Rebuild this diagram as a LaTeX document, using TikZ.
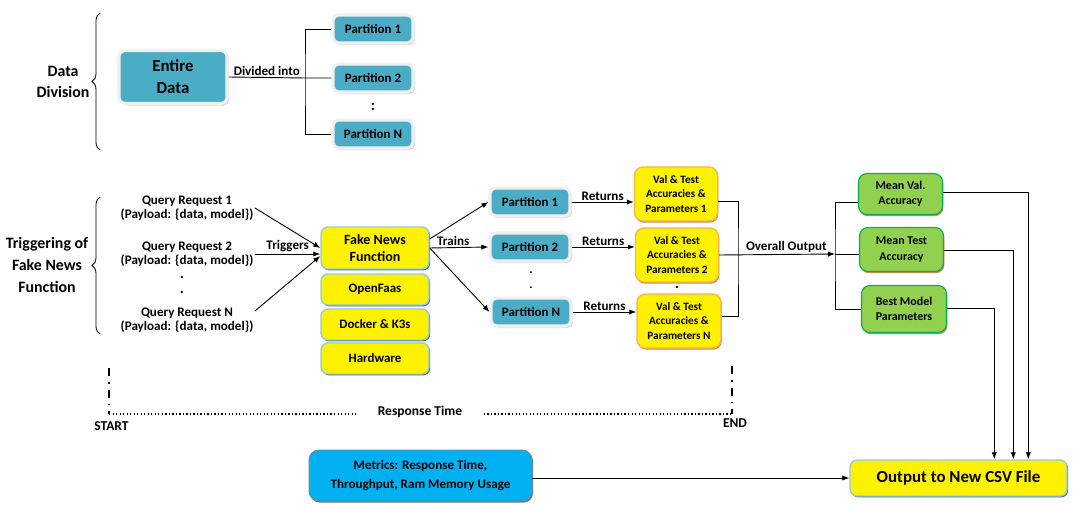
\documentclass[tikz,border=0pt]{standalone}
\usepackage{fontspec}
\setmainfont{Carlito}
\usetikzlibrary{positioning}
\usetikzlibrary{arrows.meta}
\usetikzlibrary{shadows}
\usetikzlibrary{calc}
\usetikzlibrary{decorations.pathreplacing}
\newdimen\pxu
\pxu=0.025cm
\definecolor{tealfill}{RGB}{75,172,198}
\definecolor{tealline}{RGB}{147,205,221}
\definecolor{skyfill}{RGB}{0,176,240}
\definecolor{grnfill}{RGB}{146,208,80}
\definecolor{grnline}{RGB}{0,176,80}
\definecolor{orgline}{RGB}{250,180,80}
\definecolor{brnshade}{RGB}{190,110,40}
\definecolor{blushade}{RGB}{50,90,110}
\tikzset{
    tealnode/.style = {rectangle, rounded corners=4pt, draw=black!6, line width=2.2pt, fill=tealfill, inner sep=0pt, align=center, minimum width=80\pxu, minimum height=28\pxu, drop shadow={shadow xshift=1.5pt, shadow yshift=-1.5pt, opacity=0.3}, font=\fontsize{9.2}{11}\selectfont\bfseries},
    yellownode/.style = {rectangle, rounded corners=5pt, draw=tealline, line width=1pt, fill=yellow, inner sep=0pt, align=center, minimum width=108\pxu, minimum height=31\pxu, drop shadow={shadow xshift=0.8pt, shadow yshift=-1pt, fill=blushade, opacity=0.9}, font=\fontsize{9.2}{11}\selectfont\bfseries},
    valnode/.style = {rectangle, rounded corners=6pt, draw=orgline, line width=1pt, fill=yellow, inner sep=0pt, align=center, minimum width=83\pxu, minimum height=54\pxu, drop shadow={shadow xshift=0.6pt, shadow yshift=-1.2pt, fill=brnshade, opacity=0.8}, font=\fontsize{8}{10.4}\selectfont\bfseries},
    greennode/.style = {rectangle, rounded corners=6pt, draw=grnline, line width=0.8pt, fill=grnfill, inner sep=0pt, align=center, minimum width=84\pxu, minimum height=42\pxu, drop shadow={shadow xshift=0.6pt, shadow yshift=-1.2pt, fill=brnshade, opacity=0.8}, font=\fontsize{8.5}{11}\selectfont\bfseries},
    bluenode/.style = {rectangle, rounded corners=7pt, draw=blushade!70, line width=0.6pt, fill=skyfill, inner sep=0pt, align=center, minimum width=223\pxu, minimum height=51\pxu, drop shadow={shadow xshift=0.8pt, shadow yshift=-1.2pt, fill=blushade, opacity=0.8}, font=\fontsize{9.3}{13}\selectfont\bfseries},
    txt/.style = {inner sep=1pt, align=center, font=\fontsize{9.3}{10.3}\selectfont\bfseries},
    bigtxt/.style = {inner sep=1pt, align=center, font=\fontsize{11.3}{15.4}\selectfont\bfseries},
    dotnode/.style = {inner sep=0pt, align=center, font=\fontsize{#1}{10.2pt}\selectfont\bfseries},
    edgen/.style = {-{Latex[length=5pt,width=3.8pt]}, line width=0.65pt},
    linen/.style = {line width=0.65pt},
    bracen/.style = {line width=0.6pt, decorate, decoration={brace, amplitude=5.7pt}},
    dotn/.style = {line width=0.9pt, dash pattern=on 0.9pt off 1.6pt},
    dashdotn/.style = {line width=1.3pt, dash pattern=on 6pt off 4pt on 1.3pt off 4pt}
}
\begin{document}
\begin{tikzpicture}[x=\pxu, y=-\pxu]
\useasboundingbox (0,0) rectangle (1080,511);
%
% data division
\node[bigtxt] at (63,82) (dd) {Data\\Division};
\coordinate (b1t) at (100,13);
\coordinate (b1b) at (100,150);
\draw[bracen] (b1b) -- (b1t);
\node[tealnode, minimum width=108\pxu, minimum height=53\pxu, font=\fontsize{12}{15.5}\selectfont\bfseries] at (173,77) (ed) {Entire\\Data};
\node[tealnode] at (373,29) (dp1) {Partition 1};
\node[tealnode] at (373,78) (dp2) {Partition 2};
\node[tealnode] at (373,134) (dpn) {Partition N};
\node[dotnode=11] at (373,107) (dpd) {:};
\coordinate (dsplit) at (305,78);
%
\draw[linen] (ed.east) -- node[txt, above] {Divided into} (dsplit) -- (dp2.west);
\draw[linen] (dp1.west) -| (dsplit) |- (dpn.west);
%
% triggering
\node[bigtxt] at (47,265) (tf) {Triggering of\\Fake News\\Function};
\coordinate (b2t) at (100,197);
\coordinate (b2b) at (100,334);
\draw[bracen] (b2b) -- (b2t);
\node[txt] at (187,208) (q1) {Query Request 1\\(Payload: \{data, model\})};
\node[txt] at (187,254) (q2) {Query Request 2\\(Payload: \{data, model\})};
\node[dotnode=11] at (182,285) (qd) {.\\.};
\node[txt] at (187,320) (qn) {Query Request N\\(Payload: \{data, model\})};
%
\node[yellownode, minimum height=42\pxu, font=\fontsize{10}{11.6}\selectfont\bfseries] at (375,248) (ff) {Fake News\\Function};
\node[yellownode] at (375,289.5) (of) {OpenFaas};
\node[yellownode] at (375,324.5) (dk) {Docker \& K3s};
\node[yellownode] at (375,358.5) (hw) {Hardware};
%
\draw[edgen] (q1.east) -- (ff.west);
\draw[edgen] (q2.east) -- node[txt, above] {Triggers} (q2.east -| ff.west);
\draw[edgen] ($(qn.east)+(0,-9)$) -- ($(ff.west)+(0,8)$);
%
% training
\node[tealnode] at (530,202) (pm1) {Partition 1};
\node[tealnode] at (530,247) (pm2) {Partition 2};
\node[dotnode=9] at (531,280) (pmd) {.\\.};
\node[tealnode] at (531,312) (pmn) {Partition N};
%
\draw[edgen] ($(ff.east)+(0,-9)$) -- (pm1.west);
\draw[edgen] (ff.east) -- node[txt, above, pos=0.4] {Trains} (pm2.west);
\draw[edgen] (ff.east) -- (pmn.west);
%
\node[valnode] at (676,194) (v1) {Val \& Test\\Accuracies \&\\Parameters 1};
\node[valnode] at (677,255) (v2) {Val \& Test\\Accuracies \&\\Parameters 2};
\node[dotnode=11] at (677,287) (vd) {.};
\node[valnode, minimum width=84\pxu] at (679,321) (vn) {Val \& Test\\Accuracies \&\\Parameters N};
%
\draw[edgen] (pm1.east) -- node[txt, above] {Returns} (pm1.east -| v1.west);
\draw[edgen] (pm2.east) -- node[txt, above] {Returns} (pm2.east -| v2.west);
\draw[edgen] (pmn.east) -- node[txt, above] {Returns} (pmn.east -| vn.west);
%
% overall output
\coordinate (vj) at (738,254);
\coordinate (msplit) at (835,254);
\draw[linen] ($(v1.east)+(0,7)$) -| (vj) |- ($(vn.east)+(0,-5)$);
\draw[edgen] (v2.east) -- node[txt, above, pos=0.58] {Overall Output} (msplit);
%
\node[greennode, minimum height=41\pxu] at (900.5,194) (mv) {Mean Val.\\Accuracy};
\node[greennode, minimum height=44\pxu] at (901.5,249.5) (mt) {Mean Test\\Accuracy};
\node[greennode, minimum width=85\pxu, minimum height=47\pxu] at (904,309) (bm) {Best Model\\Parameters};
%
\draw[linen] ($(mv.west)+(0,8)$) -| (msplit) |- (bm.west);
\draw[linen] (msplit) -- (msplit -| mt.west);
%
% output file
\node[yellownode, minimum width=217\pxu, minimum height=36\pxu, font=\fontsize{12}{14}\selectfont\bfseries] at (958.5,478) (csv) {Output to New CSV File};
\draw[edgen] ($(mv.east)+(0,-2)$) -| ($(csv.north west)+(179,0)$);
\draw[edgen] ($(mt.east)+(0,0.5)$) -| ($(csv.north west)+(164,0)$);
\draw[edgen] ($(bm.east)+(0,-1)$) -| ($(csv.north west)+(145,0)$);
%
\node[bluenode] at (420.5,475.5) (mb) {Metrics: Response Time,\\Throughput, Ram Memory Usage};
\draw[edgen] (mb.east |- csv.west) -- (csv.west);
%
% response time
\coordinate (ts0) at (109,368);
\coordinate (ts1) at (109,414);
\coordinate (te0) at (732,366);
\coordinate (te1) at (732,414);
\node[txt, font=\fontsize{9.6}{11}\selectfont\bfseries] at (420,412) (rt) {Response Time};
\node[txt, font=\fontsize{9.6}{11}\selectfont\bfseries] at (111.5,426) (st) {START};
\node[txt, font=\fontsize{9.6}{11}\selectfont\bfseries] at (735,423) (en) {END};
\draw[dashdotn] (ts0) -- (ts1);
\draw[dashdotn] (te0) -- (te1);
\draw[dotn] (ts1) -- ($(rt.west |- ts1)+(-18,0)$);
\draw[dotn] ($(rt.east |- te1)+(20,0)$) -- (te1);

\end{tikzpicture}
\end{document}
